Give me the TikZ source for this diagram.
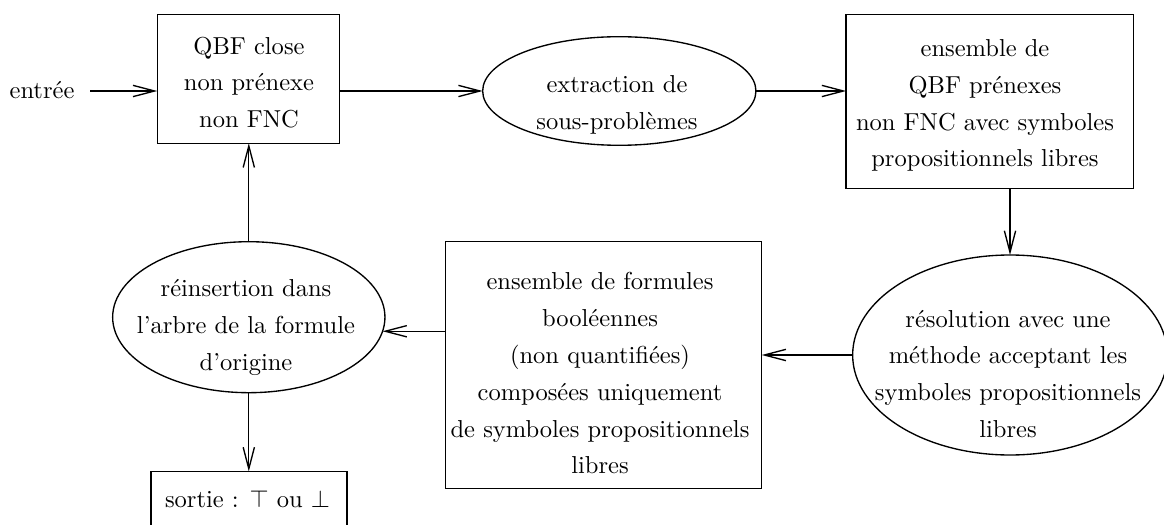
\documentclass[tikz,border=0pt]{standalone}
\usepackage{fontspec}
\usetikzlibrary{shapes.geometric,arrows.meta,calc}
\begin{document}
\begin{tikzpicture}[x=0.408pt,y=-0.408pt,
  every node/.style={inner sep=0pt, outer sep=0pt},
  boxshape/.style={draw, line width=0.55pt, rectangle},
  ellshape/.style={draw, line width=0.55pt, ellipse},
  txt/.style={align=center, font=\fontsize{10}{15}\selectfont},
  arr/.style={line width=0.55pt, -{Straight Barb[length=8.8pt,width=4.6pt]}}]
\useasboundingbox (0,0) rectangle (1164,525);
\clip (0,0) rectangle (1164,525);
% shapes
\node[boxshape, minimum width=74.3pt, minimum height=52.6pt] (box1) at (248.3,78.8) {};
\node[ellshape, minimum width=111.5pt, minimum height=44.3pt] (e1) at (619.3,91) {};
\node[boxshape, minimum width=117.2pt, minimum height=71.0pt] (box3) at (989.7,101.3) {};
\node[ellshape, minimum width=128.4pt, minimum height=81.6pt] (e3) at (1010,355) {};
\node[boxshape, minimum width=128.9pt, minimum height=100.6pt] (box2) at (603.7,365) {};
\node[ellshape, minimum width=111.1pt, minimum height=61.6pt] (e2) at (248.8,317.2) {};
\node[boxshape, minimum width=80.0pt, minimum height=23.3pt] (box4) at (249,500) {};
% texts
\node[txt, inner xsep=6.5pt] (entree) at (42,91) {\strut entrée};
\node[txt] (t1) at (249,83.5) {\strut QBF close\\\strut non prénexe\\\strut non FNC};
\node[txt] (te1) at (617,103.3) {\strut extraction de\\\strut sous-problèmes};
\node[txt] (t3) at (985,104.3) {\strut ensemble de\\\strut QBF prénexes\\\strut non FNC avec symboles\\\strut propositionnels libres};
\node[txt] (te3) at (1008,374.8) {\strut résolution avec une\\\strut méthode acceptant les\\\strut symboles propositionnels\\\strut libres};
\node[txt] (t2) at (600,374.5) {\strut ensemble de formules\\\strut booléennes\\\strut (non quantifiées)\\\strut composées uniquement\\\strut de symboles propositionnels\\\strut libres};
\node[txt] (te2) at (246,325.9) {\strut réinsertion dans\\\strut l’arbre de la formule\\\strut d’origine};
\node[txt] (t4) at (247.5,500) {\strut sortie : $\top$ ou $\bot$};
% connectors
\draw[arr] (entree.east) -- (entree.east -| box1.west);
\draw[arr] (e1.west -| box1.east) -- (e1.west);
\draw[arr] (e1.east) -- (e1.east -| box3.west);
\draw[arr] (e3.north |- box3.south) -- (e3.north);
\draw[arr] (e3.west) -- (e3.west -| box2.east);
\draw[arr] (e2.-6.2 -| box2.west) -- (e2.-6.2);
\draw[arr] (e2.north) -- (e2.north |- box1.south);
\draw[arr] (e2.south) -- (e2.south |- box4.north);
\end{tikzpicture}
\end{document}
